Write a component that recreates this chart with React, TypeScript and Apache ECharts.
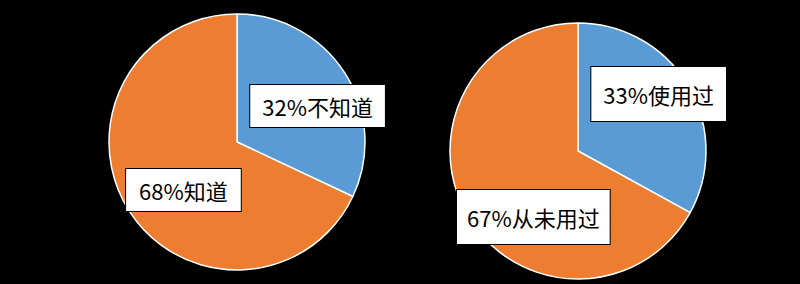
import React, { useEffect, useRef } from "react";
import * as echarts from "echarts";

const leftNames = ["不知道", "知道"];
const leftValues = [32, 68];
const rightNames = ["使用过", "从未用过"];
const rightValues = [33, 67];
const colors = ["#5B9BD5", "#ED7D31"];

const leftOffsets = [[24, 0], [3, 12]];
const rightOffsets = [[23, -23], [13, 32]];

function makeSeries(names: string[], values: number[], center: [number, number], offsets: number[][], pads: number[][]) {
  return {
    type: "pie",
    center,
    radius: 128,
    startAngle: 90,
    clockwise: true,
    silent: true,
    itemStyle: { borderColor: "#FFFFFF", borderWidth: 1.5 },
    labelLine: { show: false },
    label: {
      show: true,
      position: "inside",
      formatter: (p: any) => `${p.value}%${p.name}`,
      color: "#000000",
      fontSize: 22,
      lineHeight: 24,
      fontFamily: "Noto Sans CJK SC",
      backgroundColor: "#FFFFFF",
      borderColor: "#000000",
      borderWidth: 1,
    },
    labelLayout: (p: any) => ({ dx: offsets[p.dataIndex][0], dy: offsets[p.dataIndex][1] }),
    data: names.map((n, i) => ({
      name: n,
      value: values[i],
      itemStyle: { color: colors[i] },
      label: { padding: pads[i] },
    })),
  };
}

export default function App() {
  const ref = useRef<HTMLDivElement>(null);
  useEffect(() => {
    document.body.style.margin = "0";
    document.body.style.background = "#000";
    const chart = echarts.init(ref.current!, null, { renderer: "svg" });
    chart.setOption({
      animation: false,
      backgroundColor: "#000000",
      series: [
        makeSeries(leftNames, leftValues, [237, 142], leftOffsets, [[9, 12, 9, 12], [9, 13, 9, 13]]),
        makeSeries(rightNames, rightValues, [578, 151], rightOffsets, [[15, 12, 15, 12], [15, 10, 15, 10]]),
      ],
    });
    return () => chart.dispose();
  }, []);
  return <div ref={ref} style={{ width: 800, height: 284 }} />;
}
